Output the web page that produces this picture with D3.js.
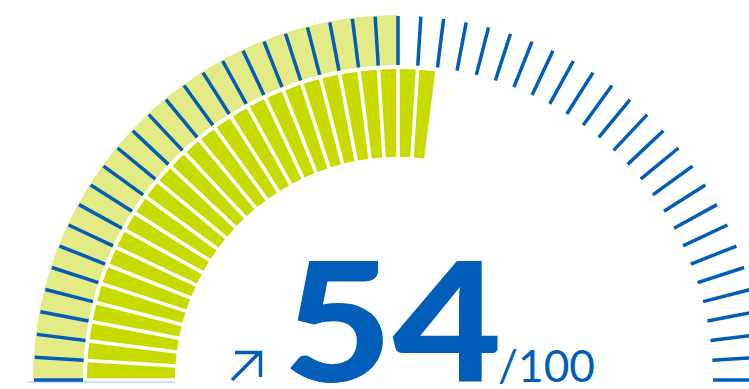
<!DOCTYPE html>
<html>
<head>
<meta charset="utf-8">
<script src="https://cdn.jsdelivr.net/npm/d3@7"></script>
<style>
  html, body { margin: 0; padding: 0; background: #fff; overflow: hidden; }
  svg { display: block; }
</style>
</head>
<body>
<div id="gauge"></div>
<script>
// Chart values
const score = 54;        // current score
const maxScore = 100;    // scale maximum
const benchmark = 50;    // light outer band value
const scoreLabel = "54";
const maxLabel = "/100";
const stepCount = 50;    // number of tick intervals along the dial

const width = 749;
const height = 389;

// Centre of the dial and ring radii
const cx = 398;
const cy = 380;
const outerR0 = 315, outerR1 = 365;
const innerR0 = 223, innerR1 = 311;

const blue = "#005eb8";
const lightGreen = "#e2eb86";
const green = "#c8db00";

const svg = d3
  .select("#gauge")
  .append("svg")
  .attr("width", width)
  .attr("height", height);

const g = svg.append("g").attr("transform", `translate(${cx},${cy})`);

// angle scale: 0 at the left, maxScore on the right
const angle = d3.scaleLinear().domain([0, maxScore]).range([-Math.PI / 2, Math.PI / 2]);
const ticks = angle.ticks(stepCount);

// light blue baseline under the left side
const radial = d3.scaleLinear().domain([0, 1]).range([innerR0, outerR1 + 5]);
g.append("line")
  .attr("x1", -radial(0))
  .attr("x2", -radial(1))
  .attr("y1", 2)
  .attr("y2", 2)
  .attr("stroke", "#bcd5ef")
  .attr("stroke-width", 1.5);

// outer light band (benchmark)
const outerArc = d3.arc().innerRadius(outerR0).outerRadius(outerR1);
g.append("path")
  .attr("d", outerArc({ startAngle: angle(0), endAngle: angle(benchmark) }))
  .attr("fill", lightGreen);

// inner segmented band (score)
const segments = d3.pairs(ticks).filter(([a, b]) => b <= score);
const segArc = d3
  .arc()
  .innerRadius(innerR0)
  .outerRadius(innerR1)
  .padRadius((innerR0 + innerR1) / 2)
  .padAngle(3.6 / ((innerR0 + innerR1) / 2));

g.selectAll(".seg")
  .data(segments)
  .enter()
  .append("path")
  .attr("class", "seg")
  .attr("d", (d) => segArc({ startAngle: angle(d[0]), endAngle: angle(d[1]) }))
  .attr("fill", green);

// blue ticks along the outer band
g.selectAll(".tick")
  .data(ticks)
  .enter()
  .append("line")
  .attr("class", "tick")
  .attr("x1", (d) => outerR0 * Math.sin(angle(d)))
  .attr("y1", (d) => -outerR0 * Math.cos(angle(d)))
  .attr("x2", (d) => (outerR1 - 1) * Math.sin(angle(d)))
  .attr("y2", (d) => -(outerR1 - 1) * Math.cos(angle(d)))
  .attr("stroke", blue)
  .attr("stroke-width", 3.5);

// big score
svg.append("text")
  .attr("x", 283)
  .attr("y", 382)
  .attr("fill", blue)
  .style("font-family", "Lato, 'Open Sans', sans-serif")
  .style("font-weight", 900)
  .style("font-size", "166px")
  .attr("textLength", 219)
  .attr("lengthAdjust", "spacingAndGlyphs")
  .text(scoreLabel);

// "/100"
svg.append("text")
  .attr("x", 498)
  .attr("y", 382)
  .attr("fill", blue)
  .style("font-family", "Lato, 'Open Sans', sans-serif")
  .style("font-weight", 400)
  .style("font-size", "44px")
  .attr("textLength", 97)
  .attr("lengthAdjust", "spacingAndGlyphs")
  .text(maxLabel);

// trend arrow
svg.append("path")
  .attr("d", "M232,380L259,353M235,352.5H260.5V377")
  .attr("fill", "none")
  .attr("stroke", blue)
  .attr("stroke-width", 3.4);
</script>
</body>
</html>
